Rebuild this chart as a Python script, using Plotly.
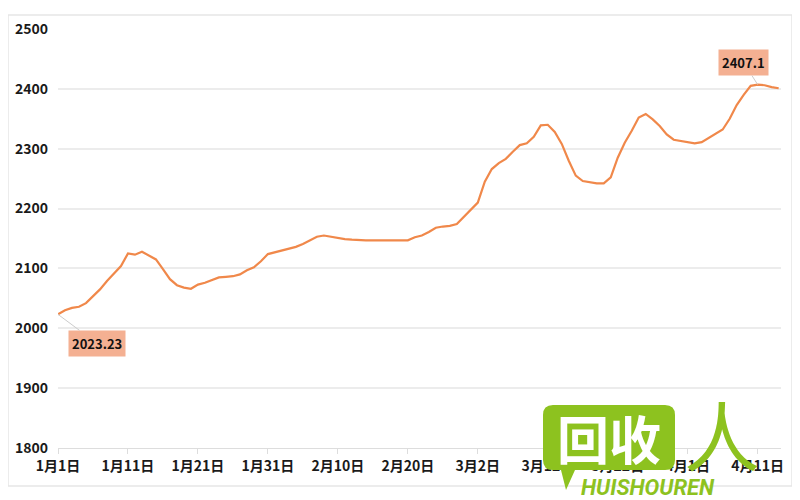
import plotly.graph_objects as go
import pandas as pd

start_date = "2023-01-01"
prices = [
    2023.23, 2030, 2034, 2036, 2042, 2053, 2065, 2079, 2092, 2104,
    2125, 2123, 2128, 2121, 2115, 2099, 2082, 2072, 2068, 2066,
    2073, 2076, 2080, 2085, 2086, 2087, 2090, 2097, 2102, 2112,
    2124, 2127, 2129, 2132, 2136, 2141, 2147, 2153, 2155, 2153,
    2150, 2149, 2148, 2147, 2147, 2147, 2147, 2147, 2147, 2147,
    2147, 2152, 2155, 2161, 2168, 2170, 2171, 2174, 2186, 2198,
    2210, 2245, 2266, 2276, 2283, 2295, 2306, 2309, 2320, 2339,
    2340, 2328, 2308, 2280, 2255, 2246, 2244, 2242, 2242, 2252,
    2285, 2310, 2330, 2352, 2358, 2349, 2338, 2324, 2315, 2313,
    2311, 2309, 2311, 2318, 2325, 2332, 2350, 2373, 2390, 2405,
    2407.1, 2406, 2403, 2401,
]
dates = pd.date_range(start_date, periods=len(prices), freq="D")
y_ticks = [1800, 1900, 2000, 2100, 2200, 2300, 2400, 2500]

min_label = "2023.23"
max_label = "2407.1"

# page has an 8px body margin: figure origin sits at screen (8, 8)
OFF = 8
W, H = 800 - OFF, 500 - OFF
L, R, T, B = 58 - OFF, 781 - OFF, 29 - OFF, 448 - OFF

def px(x):
    return ((x - OFF) - L) / (R - L)
def py(y):
    return (B - (y - OFF)) / (B - T)

fig = go.Figure()
fig.add_trace(go.Scatter(
    x=dates, y=prices, mode="lines",
    line=dict(color="#F0884A", width=2.2),
    hoverinfo="skip", showlegend=False,
))

imax = prices.index(max(prices))
label_style = dict(font=dict(family="Noto Sans CJK SC", size=13, color="#111", weight=600),
                   bgcolor="#F4B092", borderpad=3, showarrow=True,
                   arrowhead=0, arrowwidth=1, arrowcolor="#cccccc")
fig.add_annotation(x=dates[0], y=prices[0], text=min_label, ax=39, ay=29, **label_style)
fig.add_annotation(x=dates[imax], y=prices[imax], text=max_label, ax=-14, ay=-22, **label_style)

shapes = [
    dict(type="rect", xref="paper", yref="paper",
         x0=px(8), x1=px(792), y0=py(486), y1=py(15),
         line=dict(color="#e6e6e6", width=1.5), fillcolor="rgba(0,0,0,0)", layer="below"),
    # watermark logo block
    dict(type="path", xref="paper", yref="paper",
         path=(f"M {px(553)} {py(405)} L {px(665)} {py(405)} Q {px(675)} {py(405)} {px(675)} {py(415)} "
               f"L {px(675)} {py(460)} Q {px(675)} {py(470)} {px(665)} {py(470)} "
               f"L {px(575)} {py(470)} L {px(566)} {py(490)} L {px(561)} {py(470)} L {px(553)} {py(470)} "
               f"Q {px(543)} {py(470)} {px(543)} {py(460)} L {px(543)} {py(415)} Q {px(543)} {py(405)} {px(553)} {py(405)} Z"),
         fillcolor="#8DC21F", line=dict(width=0), layer="above"),
]
fig.update_layout(shapes=shapes)

wm = dict(xref="paper", yref="paper", showarrow=False, xanchor="center", yanchor="middle")
fig.add_annotation(x=px(609), y=py(437), text="<b>回收</b>",
                   font=dict(family="Noto Sans CJK SC", size=52, color="white"), **wm)
fig.add_annotation(x=px(722), y=py(433), text="人",
                   font=dict(family="Noto Sans CJK SC", size=76, color="#8DC21F"), **wm)
fig.add_annotation(x=px(648), y=py(487), text="<b><i>HUISHOUREN</i></b>",
                   font=dict(family="Roboto", size=22, color="#8DC21F"), **wm)

tick_font = dict(family="Noto Sans CJK SC", size=14, color="#1a1a1a", weight=600)
fig.update_layout(
    width=W, height=H,
    margin=dict(l=L, r=W - R, t=T, b=H - B, autoexpand=False),
    plot_bgcolor="white", paper_bgcolor="white",
    font=dict(family="Noto Sans CJK SC", size=14, color="#1a1a1a"),
    xaxis=dict(
        type="date",
        range=["2023-01-01", "2023-04-14 08:00"],
        tick0="2023-01-01", dtick=10 * 86400000,
        tickformat="%-m月%-d日",
        showgrid=False, zeroline=False,
        showline=True, linecolor="#dddddd", linewidth=1,
        ticks="outside", ticklen=5, tickcolor="#dddddd",
        tickfont=tick_font,
    ),
    yaxis=dict(
        range=[1800, 2500], tickvals=y_ticks,
        showgrid=True, gridcolor="#ececec", gridwidth=1.5,
        zeroline=False, showline=False, ticks="", ticklabelstandoff=9,
        tickfont=tick_font,
    ),
)

fig.write_html("out.html")
